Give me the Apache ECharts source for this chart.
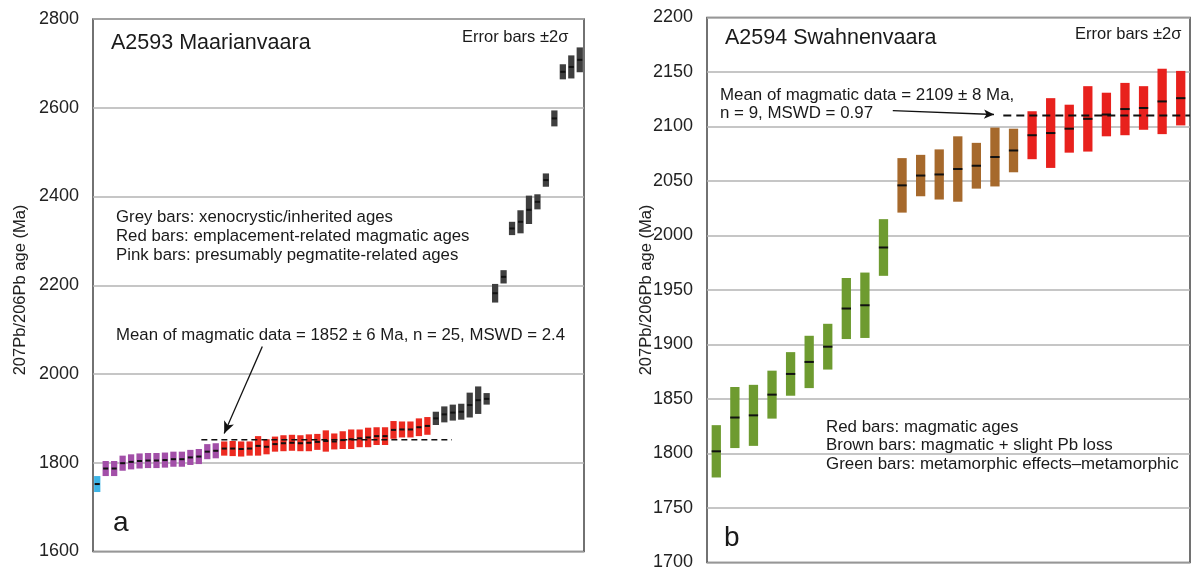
<!DOCTYPE html>
<html>
<head>
<meta charset="utf-8">
<script src="https://cdn.jsdelivr.net/npm/echarts@6/dist/echarts.min.js"></script>
<style>
html,body{margin:0;padding:0;background:#fff;}
#chart{width:1194px;height:572px;}
</style>
</head>
<body>
<div id="chart"></div>
<script>
// ---------- Panel a: A2593 Maarianvaara ----------
const aCyanAge = [1752];
const aCyanErr = [18];
const aPinkAge = [1787,1787,1799,1802,1804,1805,1805,1806,1808,1808,1812,1814,1825,1827];
const aPinkErr = [17,17,17,17,17,17,17,17,17,17,17,17,17,17];
const aRedAge = [1832,1832,1831,1832,1838,1836,1842,1844,1845,1844,1845,1847,1849,1848,1851,1853,1855,1857,1860,1860,1874,1875,1875,1880,1883];
const aRedErr = [16,17,17,16,22,17,17,18,18,18,19,18,24,18,20,22,20,22,20,20,20,18,18,20,20];
const aGreyAge = [1900,1909,1913,1915,1930,1941,1944,2182,2219,2328,2343,2370,2388,2437,2576,2681,2692,2708];
const aGreyErr = [15,18,18,18,28,31,13,21,15,15,26,32,17,15,18,17,26,28];
const aMean = 1852;
const aYTicks = {min:1600, max:2800, interval:200};

// ---------- Panel b: A2594 Swahnenvaara ----------
const bGreenAge = [1802,1833,1835,1854,1873,1884,1898,1933,1936,1989];
const bGreenErr = [24,28,28,22,20,24,21,28,30,26];
const bBrownAge = [2046,2055,2056,2061,2064,2072,2078];
const bBrownErr = [25,19,23,30,21,27,20];
const bRedAge = [2092,2094,2098,2107,2111,2116,2117,2123,2126];
const bRedErr = [22,32,22,30,20,24,20,30,25];
const bMean = 2110;
const bYTicks = {min:1700, max:2200, interval:50};

const yTitle = '207Pb/206Pb age (Ma)';

function buildGroups(groups){
  let idx = 0;
  return groups.map(g => {
    const data = g.age.map((v,i) => { const d = [idx, v - g.err[i], v + g.err[i], v]; idx++; return d; });
    return {color: g.color, data: data};
  });
}
const aGroups = buildGroups([
  {age:aCyanAge, err:aCyanErr, color:'#3cb4e6'},
  {age:aPinkAge, err:aPinkErr, color:'#a24fa8'},
  {age:aRedAge, err:aRedErr, color:'#ec2a20'},
  {age:aGreyAge, err:aGreyErr, color:'#3f3f3f'}
]);
const bGroups = buildGroups([
  {age:bGreenAge, err:bGreenErr, color:'#6e9b30'},
  {age:bBrownAge, err:bBrownErr, color:'#a6692c'},
  {age:bRedAge, err:bRedErr, color:'#e8211d'}
]);
const aCount = aCyanAge.length + aPinkAge.length + aRedAge.length + aGreyAge.length;
const bCount = bGreenAge.length + bBrownAge.length + bRedAge.length;

function makeRender(color, frac, tickFrac){
  return function(params, api){
    const x = api.value(0), lo = api.value(1), hi = api.value(2), mid = api.value(3);
    const p1 = api.coord([x, hi]), p2 = api.coord([x, lo]), pm = api.coord([x, mid]);
    const step = api.size([1,0])[0];
    const w = step * frac, tw = step * tickFrac;
    return {type:'group', children:[
      {type:'rect', shape:{x:p1[0]-w/2, y:p1[1], width:w, height:p2[1]-p1[1]}, style:{fill:color}},
      {type:'rect', shape:{x:pm[0]-tw/2, y:pm[1]-1, width:tw, height:2}, style:{fill:'#111'}}
    ]};
  };
}

const series = [];
aGroups.forEach(g => series.push({type:'custom', xAxisIndex:0, yAxisIndex:0, renderItem:makeRender(g.color, 0.74, 0.6), data:g.data, z:3}));
bGroups.forEach(g => series.push({type:'custom', xAxisIndex:1, yAxisIndex:1, renderItem:makeRender(g.color, 0.5, 0.5), data:g.data, z:3}));

// mean lines (dashed) + arrows
series.push({type:'line', xAxisIndex:0, yAxisIndex:0, data:[[12.3,aMean],[41.9,aMean]], symbol:'none', silent:true,
  lineStyle:{color:'#111', width:1.5, type:[6,4]}, z:4,
  markLine:{silent:true, symbol:['none','arrow'], symbolSize:[8,12], label:{show:false},
    lineStyle:{color:'#111', width:1.3, type:'solid'},
    data:[[{coord:[19.5,2062]},{coord:[15.0,1866]}]]}});
series.push({type:'line', xAxisIndex:1, yAxisIndex:1, data:[[15.45,bMean],[25.5,bMean]], symbol:'none', silent:true,
  lineStyle:{color:'#111', width:2, type:[8,5]}, z:4,
  markLine:{silent:true, symbol:['none','arrow'], symbolSize:[7,10], label:{show:false},
    lineStyle:{color:'#111', width:1.3, type:'solid'},
    data:[[{coord:[9.5,2114.5]},{coord:[14.95,2111]}]]}});

const labelFont = 'Liberation Sans, Arial, sans-serif';
function txt(x, y, text, size, extra){
  return Object.assign({type:'text', x:x, y:y, silent:true,
    style:{text:text, font: size + 'px ' + labelFont, fill:'#1a1a1a', textVerticalAlign:'middle'}}, extra||{});
}
function vtxt(x, y, text, size){
  return {type:'text', x:x, y:y, rotation:Math.PI/2, silent:true,
    style:{text:text, font: size + 'px ' + labelFont, fill:'#222', textAlign:'center', textVerticalAlign:'middle'}};
}

const yLabel = {fontSize:18, color:'#222', margin:14, fontFamily:labelFont, formatter: v => String(v)};

const option = {
  animation:false,
  backgroundColor:'#fff',
  grid:[
    {left:93, top:19, width:491, height:532.5, show:true, borderColor:'#444', borderWidth:1.5, backgroundColor:'transparent'},
    {left:707, top:17.5, width:483, height:545, show:true, borderColor:'#444', borderWidth:1.5, backgroundColor:'transparent'}
  ],
  xAxis:[
    {type:'value', gridIndex:0, min:-0.5, max:aCount-0.5, show:false},
    {type:'value', gridIndex:1, min:-0.5, max:bCount-0.5, show:false}
  ],
  yAxis:[
    {type:'value', gridIndex:0, min:aYTicks.min, max:aYTicks.max, interval:aYTicks.interval,
     axisLine:{show:false}, axisTick:{show:false}, axisLabel:yLabel,
     splitLine:{lineStyle:{color:'#b3b3b3', width:1.5}}},
    {type:'value', gridIndex:1, min:bYTicks.min, max:bYTicks.max, interval:bYTicks.interval,
     axisLine:{show:false}, axisTick:{show:false}, axisLabel:yLabel,
     splitLine:{lineStyle:{color:'#b3b3b3', width:1.5}}}
  ],
  graphic:[
    vtxt(20, 290, yTitle, 16.5),
    vtxt(646, 290, yTitle, 16.5),
    txt(111, 43, 'A2593 Maarianvaara', 21.5),
    txt(462, 37, 'Error bars ±2σ', 16.5),
    txt(116, 217, 'Grey bars: xenocrystic/inherited ages', 16.8),
    txt(116, 236, 'Red bars: emplacement-related magmatic ages', 16.8),
    txt(116, 255, 'Pink bars: presumably pegmatite-related ages', 16.8),
    txt(116, 335, 'Mean of magmatic data = 1852 ± 6 Ma, n = 25, MSWD = 2.4', 16.8),
    txt(113, 523, 'a', 28),
    txt(725, 38, 'A2594 Swahnenvaara', 21.5),
    txt(1075, 34, 'Error bars ±2σ', 16.5),
    txt(720, 95, 'Mean of magmatic data = 2109 ± 8 Ma,', 16.9),
    txt(720, 113, 'n = 9, MSWD = 0.97', 16.9),
    txt(826, 427, 'Red bars: magmatic ages', 16.9),
    txt(826, 445, 'Brown bars: magmatic + slight Pb loss', 16.9),
    txt(826, 464, 'Green bars: metamorphic effects–metamorphic', 16.9),
    txt(724, 538, 'b', 28)
  ],
  series: series
};

const chart = echarts.init(document.getElementById('chart'), null, {renderer:'canvas'});
chart.setOption(option);
</script>
</body>
</html>
